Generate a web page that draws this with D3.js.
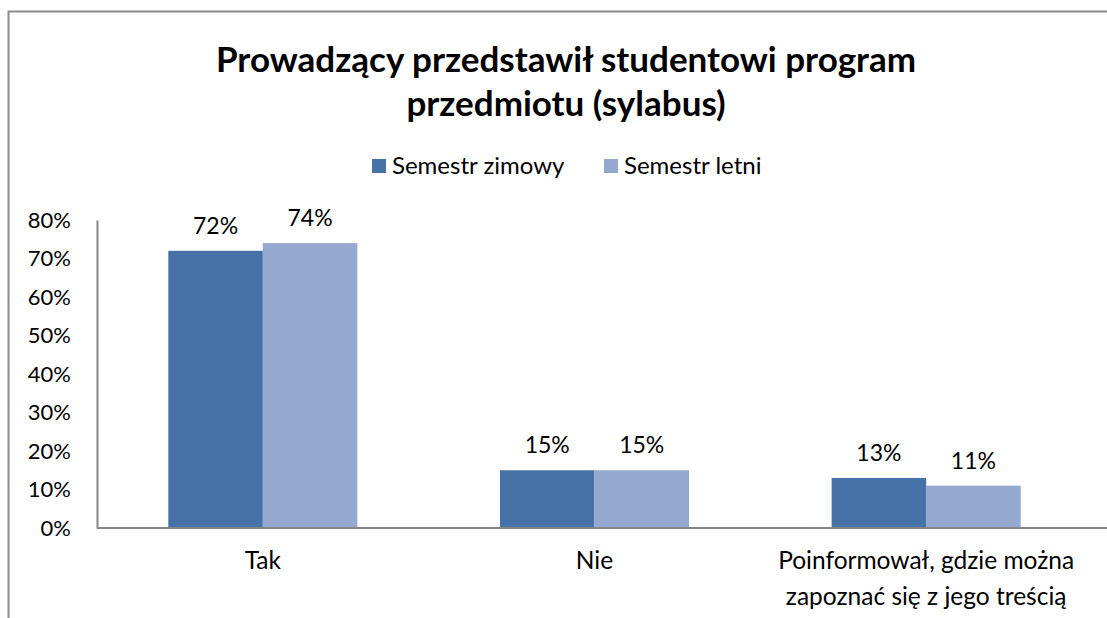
<!DOCTYPE html>
<html>
<head>
<meta charset="utf-8">
<script src="https://cdn.jsdelivr.net/npm/d3@7"></script>
<style>
  body { margin: 0; background: #fff; }
  svg { display: block; font-family: Lato, "Open Sans", sans-serif; }
</style>
</head>
<body>
<svg width="1107" height="618"></svg>
<script>
let width = 1107;
let height = 618;

// data
let categories = [['Tak'], ['Nie'], ['Poinformował, gdzie można', 'zapoznać się z jego treścią']];
let seriesNames = ['Semestr zimowy', 'Semestr letni'];
let zimowy = [0.72, 0.15, 0.13];
let letni = [0.74, 0.15, 0.11];
let yTicks = [0, 0.1, 0.2, 0.3, 0.4, 0.5, 0.6, 0.7, 0.8];
let titleLines = ['Prowadzący przedstawił studentowi program', 'przedmiotu (sylabus)'];

let colors = ['#4672a8', '#95a9d0'];
let rows = categories.map((c, i) => ({ key: i, label: c, values: [zimowy[i], letni[i]] }));

let svg = d3.select('svg');

// outer frame
svg.append('rect')
  .attr('x', 8.5)
  .attr('y', 11.5)
  .attr('width', width)
  .attr('height', height)
  .attr('fill', 'none')
  .attr('stroke', '#8a8a8a')
  .attr('stroke-width', 2)
  ;

let plotLeft = 97, plotRight = 1092, plotTop = 220, plotBottom = 528;

let x0 = d3.scaleBand()
  .domain(rows.map(d => d.key))
  .range([plotLeft, plotRight])
  .paddingInner(0.43)
  .paddingOuter(0.215)
  ;
let x1 = d3.scaleBand()
  .domain([0, 1])
  .range([0, x0.bandwidth()])
  ;
let y = d3.scaleLinear()
  .domain([0, 0.8])
  .range([plotBottom, plotTop])
  ;

// title
svg.append('g')
  .selectAll('text')
  .data(titleLines)
  .enter()
    .append('text')
    .attr('x', 566)
    .attr('y', (d, i) => 72 + i * 44)
    .attr('text-anchor', 'middle')
    .attr('font-size', 35)
    .attr('font-weight', 'bold')
    .attr('fill', '#000')
    .text(d => d)
  ;

// legend
let legend = svg.append('g')
  .selectAll('g')
  .data(seriesNames)
  .enter()
    .append('g')
    .attr('transform', (d, i) => `translate(${[372, 604][i]},159)`)
  ;
legend.append('rect')
  .attr('width', 14)
  .attr('height', 14)
  .attr('fill', (d, i) => colors[i])
  ;
legend.append('text')
  .attr('x', 20)
  .attr('y', 15)
  .attr('font-size', 24)
  .text(d => d)
  ;

// y axis
let yAxis = svg.append('g')
  .attr('transform', `translate(${plotLeft},0)`)
  .call(d3.axisLeft(y).tickValues(yTicks).tickFormat(d3.format('.0%')).tickSize(0).tickPadding(26))
  ;
yAxis.select('.domain').attr('stroke', '#868686').attr('stroke-width', 2);
yAxis.selectAll('text').attr('font-size', 22).attr('fill', '#000').attr('font-family', 'Lato, sans-serif');

// bars
let groups = svg.append('g')
  .selectAll('g')
  .data(rows)
  .enter()
    .append('g')
    .attr('transform', d => `translate(${x0(d.key)},0)`)
  ;
groups.selectAll('rect')
  .data(d => d.values)
  .enter()
    .append('rect')
    .attr('x', (d, i) => x1(i))
    .attr('y', d => y(d))
    .attr('width', x1.bandwidth())
    .attr('height', d => plotBottom - y(d))
    .attr('fill', (d, i) => colors[i])
  ;
groups.selectAll('text')
  .data(d => d.values)
  .enter()
    .append('text')
    .attr('x', (d, i) => x1(i) + x1.bandwidth() / 2)
    .attr('y', d => y(d) - 17)
    .attr('text-anchor', 'middle')
    .attr('font-size', 23)
    .text(d => d3.format('.0%')(d))
  ;

// baseline
svg.append('line')
  .attr('x1', plotLeft)
  .attr('x2', width)
  .attr('y1', plotBottom)
  .attr('y2', plotBottom)
  .attr('stroke', '#868686')
  .attr('stroke-width', 2)
  ;

// category labels
svg.append('g')
  .selectAll('text')
  .data(rows)
  .enter()
    .append('text')
    .attr('x', d => x0(d.key) + x0.bandwidth() / 2)
    .attr('y', 569)
    .attr('text-anchor', 'middle')
    .attr('font-size', 24.5)
    .each(function(d) {
      d3.select(this).selectAll('tspan')
        .data(d.label)
        .enter()
          .append('tspan')
          .attr('x', x0(d.key) + x0.bandwidth() / 2)
          .attr('dy', (t, i) => i ? 36 : 0)
          .text(t => t)
        ;
    })
  ;
</script>
</body>
</html>
